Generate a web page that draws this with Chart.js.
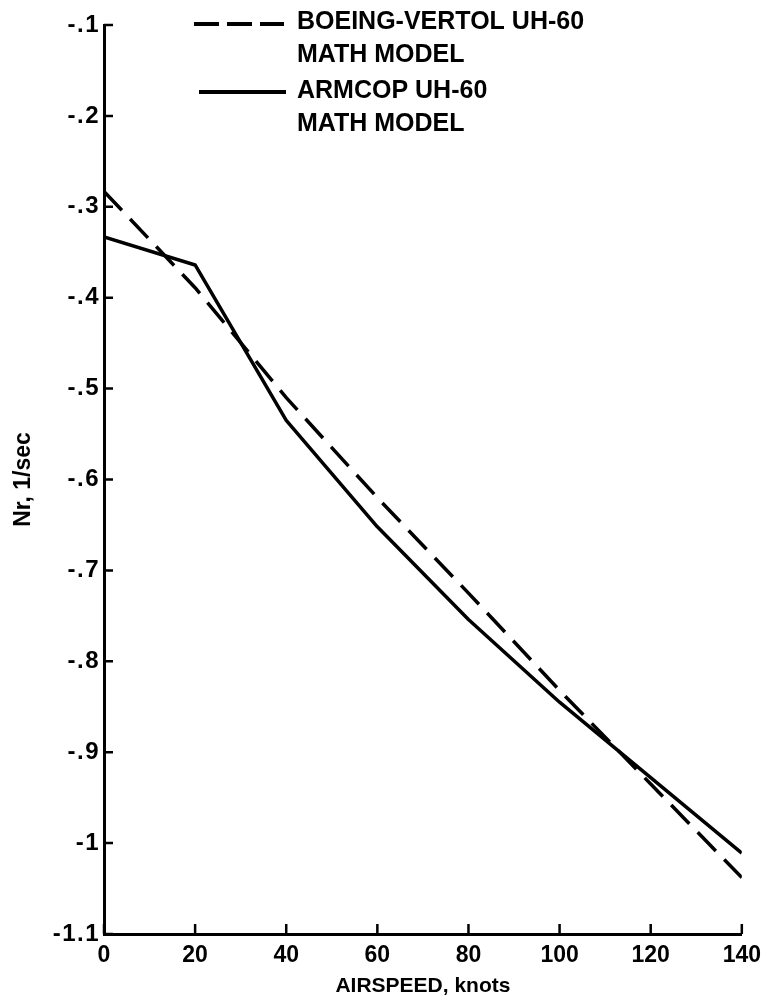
<!DOCTYPE html>
<html>
<head>
<meta charset="utf-8">
<script src="https://cdn.jsdelivr.net/npm/chart.js@4/dist/chart.umd.min.js"></script>
<style>
  html, body { margin: 0; padding: 0; background: #fff; }
  #wrap { width: 769px; height: 1001px; position: relative; }
</style>
</head>
<body>
<div id="wrap"><canvas id="c" width="769" height="1001"></canvas></div>
<script>
// Yaw damping derivative Nr versus airspeed for two UH-60 math models
const airspeed = [0, 20, 40, 60, 80, 100, 120, 140];
const boeingVertol = [-0.283, -0.389, -0.510, -0.620, -0.725, -0.832, -0.935, -1.038];
const armcop = [-0.333, -0.364, -0.535, -0.652, -0.754, -0.845, -0.928, -1.011];

const yTickValues = [-0.1, -0.2, -0.3, -0.4, -0.5, -0.6, -0.7, -0.8, -0.9, -1.0, -1.1];
const yTickLabels = ['-.1', '-.2', '-.3', '-.4', '-.5', '-.6', '-.7', '-.8', '-.9', '-1', '-1.1'];
const xTickValues = [0, 20, 40, 60, 80, 100, 120, 140];
const xTickLabels = ['0', '20', '40', '60', '80', '100', '120', '140'];

const seriesLines = [
  ['BOEING-VERTOL UH-60', 'MATH MODEL'],
  ['ARMCOP UH-60', 'MATH MODEL']
];

const FONT = "'Liberation Sans', Arial, Helvetica, sans-serif";
const DASH = [26, 12];

// Tick marks pointing into the plot area
const innerTicks = {
  id: 'innerTicks',
  afterDraw(chart) {
    const { ctx, chartArea, scales } = chart;
    ctx.save();
    ctx.strokeStyle = '#000';
    ctx.lineWidth = 2.5;
    ctx.beginPath();
    scales.y.ticks.forEach(t => {
      const y = scales.y.getPixelForValue(t.value);
      ctx.moveTo(chartArea.left, y);
      ctx.lineTo(chartArea.left + 9, y);
    });
    scales.x.ticks.forEach(t => {
      const x = scales.x.getPixelForValue(t.value);
      ctx.moveTo(x, chartArea.bottom);
      ctx.lineTo(x, chartArea.bottom - 10);
    });
    ctx.stroke();
    ctx.restore();
  }
};

// Key with line samples and two-line labels
const keyPlugin = {
  id: 'keyPlugin',
  afterDraw(chart) {
    const { ctx } = chart;
    const rows = [
      { x0: 194, x1: 284, y: 24, textY: [22, 55] },
      { x0: 199, x1: 286, y: 92, textY: [91, 124] }
    ];
    ctx.save();
    chart.data.datasets.forEach((ds, i) => {
      const r = rows[i];
      ctx.strokeStyle = ds.borderColor;
      ctx.lineWidth = 4;
      ctx.setLineDash(ds.borderDash && ds.borderDash.length ? [25, 8] : []);
      ctx.beginPath();
      ctx.moveTo(r.x0, r.y);
      ctx.lineTo(r.x1, r.y);
      ctx.stroke();
      ctx.setLineDash([]);
      ctx.fillStyle = '#000';
      ctx.font = 'bold 25px ' + FONT;
      ctx.textAlign = 'left';
      ctx.textBaseline = 'middle';
      seriesLines[i].forEach((line, j) => ctx.fillText(line, 297, r.textY[j]));
    });
    ctx.restore();
  }
};

// Slightly wider letter spacing for the vertical axis tick labels
function spacedLabels(scale) {
  if (scale._spaced) return;
  scale._spaced = true;
  const base = scale.drawLabels;
  scale.drawLabels = function (area) {
    const ctx = this.ctx;
    ctx.save();
    ctx.letterSpacing = '1.5px';
    base.call(this, area);
    ctx.restore();
  };
}

new Chart(document.getElementById('c'), {
  type: 'line',
  data: {
    datasets: [
      {
        label: seriesLines[0].join(' '),
        data: airspeed.map((x, i) => ({ x, y: boeingVertol[i] })),
        borderColor: '#000',
        borderWidth: 3.5,
        borderDash: DASH,
        pointRadius: 0,
        tension: 0,
        fill: false
      },
      {
        label: seriesLines[1].join(' '),
        data: airspeed.map((x, i) => ({ x, y: armcop[i] })),
        borderColor: '#000',
        borderWidth: 3.5,
        borderJoinStyle: 'round',
        pointRadius: 0,
        tension: 0,
        fill: false
      }
    ]
  },
  options: {
    responsive: false,
    animation: false,
    events: [],
    layout: { padding: { top: 25, right: 26, left: 0, bottom: 0 } },
    plugins: { legend: { display: false }, tooltip: { enabled: false } },
    scales: {
      x: {
        type: 'linear',
        min: 0,
        max: 140,
        afterBuildTicks: s => { s.ticks = xTickValues.map(v => ({ value: v })); },
        afterFit: s => { s.height = 67; },
        grid: { display: false, drawTicks: false },
        border: { display: true, color: '#000', width: 3 },
        ticks: {
          padding: 8,
          color: '#000',
          maxRotation: 0,
          font: { family: FONT, size: 23, weight: 'bold' },
          callback: v => xTickLabels[xTickValues.indexOf(v)]
        },
        title: {
          display: true,
          text: 'AIRSPEED, knots',
          color: '#000',
          font: { family: FONT, size: 21, weight: 'bold' },
          padding: { top: 0, bottom: 2 }
        }
      },
      y: {
        type: 'linear',
        min: -1.1,
        max: -0.1,
        afterBuildTicks: s => { s.ticks = yTickValues.map(v => ({ value: v })); },
        afterFit: s => { s.width = 104; spacedLabels(s); },
        grid: { display: false, drawTicks: false },
        border: { display: true, color: '#000', width: 3 },
        ticks: {
          padding: 4,
          color: '#000',
          font: { family: FONT, size: 24, weight: 'bold' },
          callback: v => {
            const i = yTickValues.findIndex(t => Math.abs(t - v) < 1e-6);
            return i >= 0 ? yTickLabels[i] : '';
          }
        },
        title: {
          display: true,
          text: 'Nr, 1/sec',
          color: '#000',
          font: { family: FONT, size: 23, weight: 'bold' },
          padding: { top: 10, bottom: 0 }
        }
      }
    }
  },
  plugins: [innerTicks, keyPlugin]
});
</script>
</body>
</html>
